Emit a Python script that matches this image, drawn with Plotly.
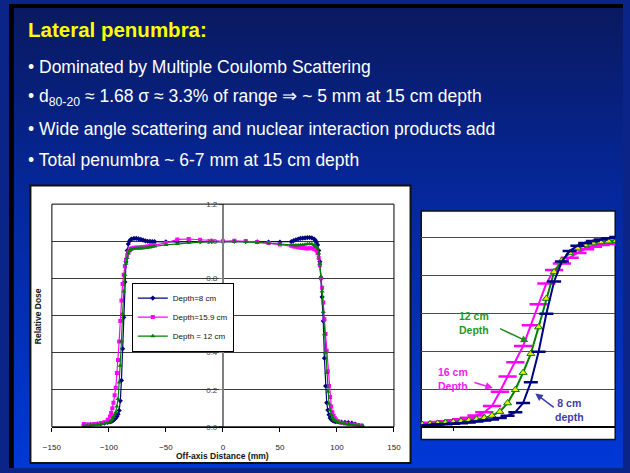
import base64
import plotly.graph_objects as go

W, H = 630, 473

# ---- Lateral dose profiles (off-axis distance in mm, relative dose) ----
offaxis_mm = [-122, -119, -116, -113, -110, -107, -104, -101,
              -99, -98, -97, -96, -95, -94, -93, -92, -91, -90,
              -89, -88, -87, -86, -85, -84, -83, -82, -81, -80,
              -78, -76, -74, -72, -70, -68, -66, -64, -62, -60,
              -50, -40, -30, -20, -10, 0, 10, 20, 30, 40, 50,
              60, 62, 64, 66, 68, 70, 72, 74, 76, 78,
              80, 81, 82, 83, 84, 85, 86, 87, 88, 89,
              90, 91, 92, 93, 94, 95, 96, 97, 98, 99,
              101, 104, 107, 110, 113, 116, 119, 122]

dose_8cm = [0.010, 0.010, 0.012, 0.013, 0.015, 0.017, 0.020, 0.024,
            0.027, 0.029, 0.032, 0.036, 0.041, 0.048, 0.056, 0.068, 0.088, 0.140,
            0.25, 0.42, 0.59, 0.78, 0.89, 0.95, 0.985, 1.000, 1.008, 1.012,
            1.015, 1.015, 1.013, 1.010, 1.006, 1.002, 1.000, 0.999, 0.998, 0.998,
            0.997, 0.997, 0.998, 0.999, 1.000, 1.000, 1.000, 0.999, 0.997, 0.996, 0.996,
            0.998, 1.003, 1.008, 1.012, 1.015, 1.017, 1.018, 1.019, 1.020, 1.018,
            1.012, 1.005, 0.995, 0.980, 0.950, 0.890, 0.800, 0.700, 0.570, 0.370,
            0.220, 0.130, 0.090, 0.065, 0.048, 0.040, 0.035, 0.032, 0.030, 0.028,
            0.026, 0.025, 0.024, 0.022, 0.020, 0.015, 0.008, 0.005]

dose_159cm = [0.015, 0.012, 0.013, 0.015, 0.017, 0.020, 0.025, 0.038,
              0.055, 0.075, 0.100, 0.130, 0.170, 0.210, 0.290, 0.360, 0.460, 0.570,
              0.680, 0.770, 0.820, 0.865, 0.900, 0.925, 0.940, 0.950, 0.958, 0.962,
              0.965, 0.966, 0.966, 0.967, 0.968, 0.970, 0.972, 0.975, 0.978, 0.980,
              0.990, 1.010, 1.012, 1.008, 1.003, 1.000, 1.002, 1.001, 0.996, 0.990, 0.983,
              0.975, 0.972, 0.970, 0.967, 0.965, 0.963, 0.962, 0.961, 0.962, 0.962,
              0.958, 0.955, 0.950, 0.935, 0.910, 0.870, 0.800, 0.750, 0.670, 0.580,
              0.500, 0.410, 0.300, 0.220, 0.160, 0.110, 0.078, 0.060, 0.047, 0.040,
              0.030, 0.022, 0.018, 0.015, 0.013, 0.011, 0.008, 0.005]

dose_12cm = [0.005, 0.006, 0.008, 0.010, 0.012, 0.015, 0.018, 0.022,
             0.028, 0.034, 0.042, 0.055, 0.065, 0.078, 0.110, 0.150, 0.240, 0.330,
             0.460, 0.610, 0.730, 0.820, 0.880, 0.910, 0.935, 0.948, 0.955, 0.958,
             0.960, 0.961, 0.962, 0.962, 0.963, 0.964, 0.965, 0.967, 0.970, 0.972,
             0.980, 0.986, 0.992, 0.995, 0.998, 1.000, 0.999, 0.997, 0.994, 0.990, 0.985,
             0.980, 0.979, 0.979, 0.979, 0.980, 0.981, 0.983, 0.985, 0.986, 0.985,
             0.980, 0.975, 0.970, 0.960, 0.935, 0.880, 0.810, 0.730, 0.620, 0.500,
             0.400, 0.290, 0.190, 0.125, 0.090, 0.065, 0.050, 0.040, 0.034, 0.030,
             0.025, 0.020, 0.017, 0.015, 0.012, 0.010, 0.007, 0.005]

series_names = ["Depth=8 cm", "Depth=15.9 cm", "Depth = 12 cm"]

# ---- Close-up of the penumbra edge (position in mm, relative dose) ----
edge_mm = [-3.2, -2.4, -1.6, -0.8, 0.0, 0.8, 1.6, 2.4, 3.2, 4.0, 4.8, 5.6, 6.4,
           7.2, 8.0, 8.8, 9.6, 10.4, 11.2, 12.0, 12.8, 13.6, 14.4, 15.2, 16.0, 16.8]
edge_8cm = [0.013, 0.015, 0.017, 0.019, 0.021, 0.024, 0.028, 0.033, 0.038, 0.044,
            0.052, 0.063, 0.082, 0.130, 0.240, 0.400, 0.600, 0.770, 0.875, 0.930,
            0.958, 0.973, 0.983, 0.991, 0.998, 1.004]
edge_16cm = [0.022, 0.026, 0.030, 0.034, 0.039, 0.045, 0.053, 0.064, 0.082, 0.115,
             0.190, 0.270, 0.345, 0.430, 0.540, 0.650, 0.760, 0.830, 0.865, 0.895,
             0.920, 0.940, 0.953, 0.962, 0.967, 0.970]
edge_12cm = [0.017, 0.020, 0.023, 0.026, 0.030, 0.034, 0.039, 0.045, 0.052, 0.064,
             0.085, 0.130, 0.200, 0.290, 0.390, 0.530, 0.680, 0.820, 0.880, 0.920,
             0.945, 0.962, 0.972, 0.978, 0.982, 0.985]

title_text = "Lateral penumbra:"
bullet_lines = [
    "• Dominated by Multiple Coulomb Scattering",
    "• d<sub>80-20</sub> ≈ 1.68 σ ≈ 3.3% of range ⇒ ~ 5 mm at 15 cm depth",
    "• Wide angle scattering and nuclear interaction products add",
    "• Total penumbra ~ 6-7 mm at 15 cm depth",
]

NAVY, MAGENTA, GREEN = "#000080", "#ff00ff", "#008000"
FONT = "Liberation Sans, Arial, sans-serif"


def px_x(p):
    return p / W


def px_y(p):
    return 1 - p / H


# slide background gradient
svg = (
    '<svg xmlns="http://www.w3.org/2000/svg" width="630" height="473" preserveAspectRatio="none">'
    '<defs><linearGradient id="g" x1="0" y1="0" x2="0" y2="1">'
    '<stop offset="0" stop-color="#0a195e"/>'
    '<stop offset="0.4" stop-color="#05279a"/>'
    '<stop offset="1" stop-color="#0038d6"/>'
    '</linearGradient></defs>'
    '<rect width="630" height="473" fill="url(#g)"/></svg>'
)
bg_src = "data:image/svg+xml;base64," + base64.b64encode(svg.encode()).decode()

fig = go.Figure()

# full profiles
for name, dose, color, symbol, size in [
    (series_names[0], dose_8cm, NAVY, "diamond", 4),
    (series_names[1], dose_159cm, MAGENTA, "square", 4),
    (series_names[2], dose_12cm, GREEN, "triangle-up", 4.5),
]:
    fig.add_trace(go.Scatter(
        x=offaxis_mm, y=dose, name=name, mode="lines+markers",
        line=dict(color=color, width=1.2),
        marker=dict(symbol=symbol, size=size, color=color),
        xaxis="x", yaxis="y",
    ))

# edge close-up
fig.add_trace(go.Scatter(
    x=edge_mm, y=edge_16cm, mode="lines+markers", showlegend=False,
    line=dict(color=MAGENTA, width=2),
    marker=dict(symbol="line-ew", size=13, line=dict(color=MAGENTA, width=2.5)),
    xaxis="x2", yaxis="y2",
))
fig.add_trace(go.Scatter(
    x=edge_mm, y=edge_12cm, mode="lines+markers", showlegend=False,
    line=dict(color=GREEN, width=2),
    marker=dict(symbol="triangle-up", size=7, color="#e8e800",
                line=dict(color=GREEN, width=1)),
    xaxis="x2", yaxis="y2",
))
fig.add_trace(go.Scatter(
    x=edge_mm, y=edge_8cm, mode="lines+markers", showlegend=False,
    line=dict(color=NAVY, width=2),
    marker=dict(symbol="line-ew", size=10, line=dict(color=NAVY, width=2.5)),
    xaxis="x2", yaxis="y2",
))

x_dom = [px_x(44), px_x(395)]
fig.update_layout(
    width=W, height=H,
    margin=dict(l=0, r=0, t=0, b=0),
    paper_bgcolor="#0a2488",
    plot_bgcolor="rgba(0,0,0,0)",
    font=dict(family=FONT, color="#222222"),
    xaxis=dict(
        domain=x_dom, range=[-150, 150], anchor="y",
        showline=True, linecolor="black", linewidth=1,
        ticks="outside", ticklen=4, tickcolor="black",
        tick0=0, dtick=50, showgrid=False, zeroline=False,
        tickfont=dict(size=8, color="#222222"), ticklabelstandoff=9,
    ),
    yaxis=dict(
        domain=[px_y(431), px_y(204)], range=[0, 1.2],
        anchor="free", position=(x_dom[0] + x_dom[1]) / 2,
        showline=True, linecolor="#808080", linewidth=2,
        ticks="outside", ticklen=3, tickcolor="#808080",
        dtick=0.2, tickformat=".1f",
        showgrid=True, gridcolor="#3a3a3a", gridwidth=1, zeroline=False,
        tickfont=dict(size=8, color="#444444"),
    ),
    xaxis2=dict(
        domain=[px_x(423), px_x(622)], range=[-3.3, 16.7],
        anchor="free", position=px_y(431),
        showline=True, linecolor="black", linewidth=2,
        ticks="outside", ticklen=3, tickcolor="black",
        tick0=0, dtick=20, showticklabels=False,
        showgrid=False, zeroline=False,
    ),
    yaxis2=dict(
        domain=[px_y(444), px_y(211)], range=[-0.062, 1.141],
        anchor="x2", showline=False, showticklabels=False, ticks="",
        dtick=0.2, showgrid=True, gridcolor="#4a4a4a", gridwidth=1,
        zeroline=False,
    ),
    legend=dict(
        x=px_x(126), y=px_y(284), xanchor="left", yanchor="top",
        bgcolor="white", bordercolor="black", borderwidth=1,
        font=dict(size=8, color="#111111", family=FONT),
        tracegroupgap=0, itemwidth=30,
    ),
    images=[dict(
        source=bg_src, xref="paper", yref="paper", x=0, y=1,
        sizex=1, sizey=1, sizing="stretch", layer="below",
        xanchor="left", yanchor="top",
    )],
)

shapes = [
    # white chart panels
    dict(type="rect", xref="paper", yref="paper",
         x0=px_x(22), x1=px_x(412), y0=px_y(468), y1=px_y(185),
         fillcolor="white", line=dict(color="#111111", width=2), layer="below"),
    dict(type="rect", xref="paper", yref="paper",
         x0=px_x(423), x1=px_x(622), y0=px_y(444), y1=px_y(211),
         fillcolor="white", line=dict(color="#111111", width=1.5), layer="below"),
    # plot-area frame of the profile chart
    dict(type="rect", xref="x domain", yref="y domain",
         x0=0, x1=1, y0=0, y1=1, line=dict(color="black", width=1)),
    # dark slide edges
    dict(type="rect", xref="paper", yref="paper", x0=0, x1=px_x(5), y0=0, y1=1,
         fillcolor="black", line=dict(width=0)),
    dict(type="rect", xref="paper", yref="paper", x0=0, x1=1, y0=px_y(4), y1=1,
         fillcolor="black", line=dict(width=0)),
]
fig.update_layout(shapes=shapes)

annotations = [
    dict(text="<b>" + title_text + "</b>", x=px_x(17), y=px_y(26.5),
         font=dict(size=20.5, color="#ffff00", family=FONT)),
]
for i, line in enumerate(bullet_lines):
    annotations.append(dict(
        text=line, x=px_x(17), y=px_y(64 + 31.7 * i),
        font=dict(size=17.5, color="white", family=FONT),
    ))
for a in annotations:
    a.update(xref="paper", yref="paper", xanchor="left", yanchor="middle",
             showarrow=False)

# axis titles of the profile chart
annotations += [
    dict(text="<b>Relative Dose</b>", x=px_x(30), y=px_y(318), textangle=-90,
         xref="paper", yref="paper", xanchor="center", yanchor="middle",
         showarrow=False, font=dict(size=8.5, color="#111111")),
    dict(text="<b>Off-axis Distance (mm)</b>", x=px_x(219.5), y=px_y(460.5),
         xref="paper", yref="paper", xanchor="center", yanchor="middle",
         showarrow=False, font=dict(size=8.5, color="#111111")),
]

# depth labels and pointers on the close-up
annotations += [
    dict(text="<b>12 cm<br>Depth</b>", x=px_x(477), y=px_y(325),
         font=dict(size=10.5, color="#1f9a1f", family=FONT)),
    dict(text="<b>16 cm<br>Depth</b>", x=px_x(456), y=px_y(382.5),
         font=dict(size=10.5, color="#f020f0", family=FONT)),
    dict(text="<b>8 cm<br>depth</b>", x=px_x(575.5), y=px_y(413.5),
         font=dict(size=10.5, color="#3c3ca8", family=FONT)),
]
for a in annotations[-3:]:
    a.update(xref="paper", yref="paper", xanchor="center", yanchor="middle",
             showarrow=False)

annotations += [
    dict(text="", x=px_x(533), y=px_y(344.5), xref="paper", yref="paper",
         showarrow=True, ax=-30, ay=-14, arrowhead=2, arrowsize=1,
         arrowwidth=1.5, arrowcolor="#1f8a1f"),
    dict(text="", x=px_x(496.5), y=px_y(391.5), xref="paper", yref="paper",
         showarrow=True, ax=-20, ay=-6, arrowhead=2, arrowsize=1,
         arrowwidth=1.5, arrowcolor="#f020f0"),
    dict(text="", x=px_x(540), y=px_y(397), xref="paper", yref="paper",
         showarrow=True, ax=20, ay=15, arrowhead=2, arrowsize=1,
         arrowwidth=1.5, arrowcolor="#3c3ca8"),
]
fig.update_layout(annotations=annotations)

fig.write_html("out.html")
